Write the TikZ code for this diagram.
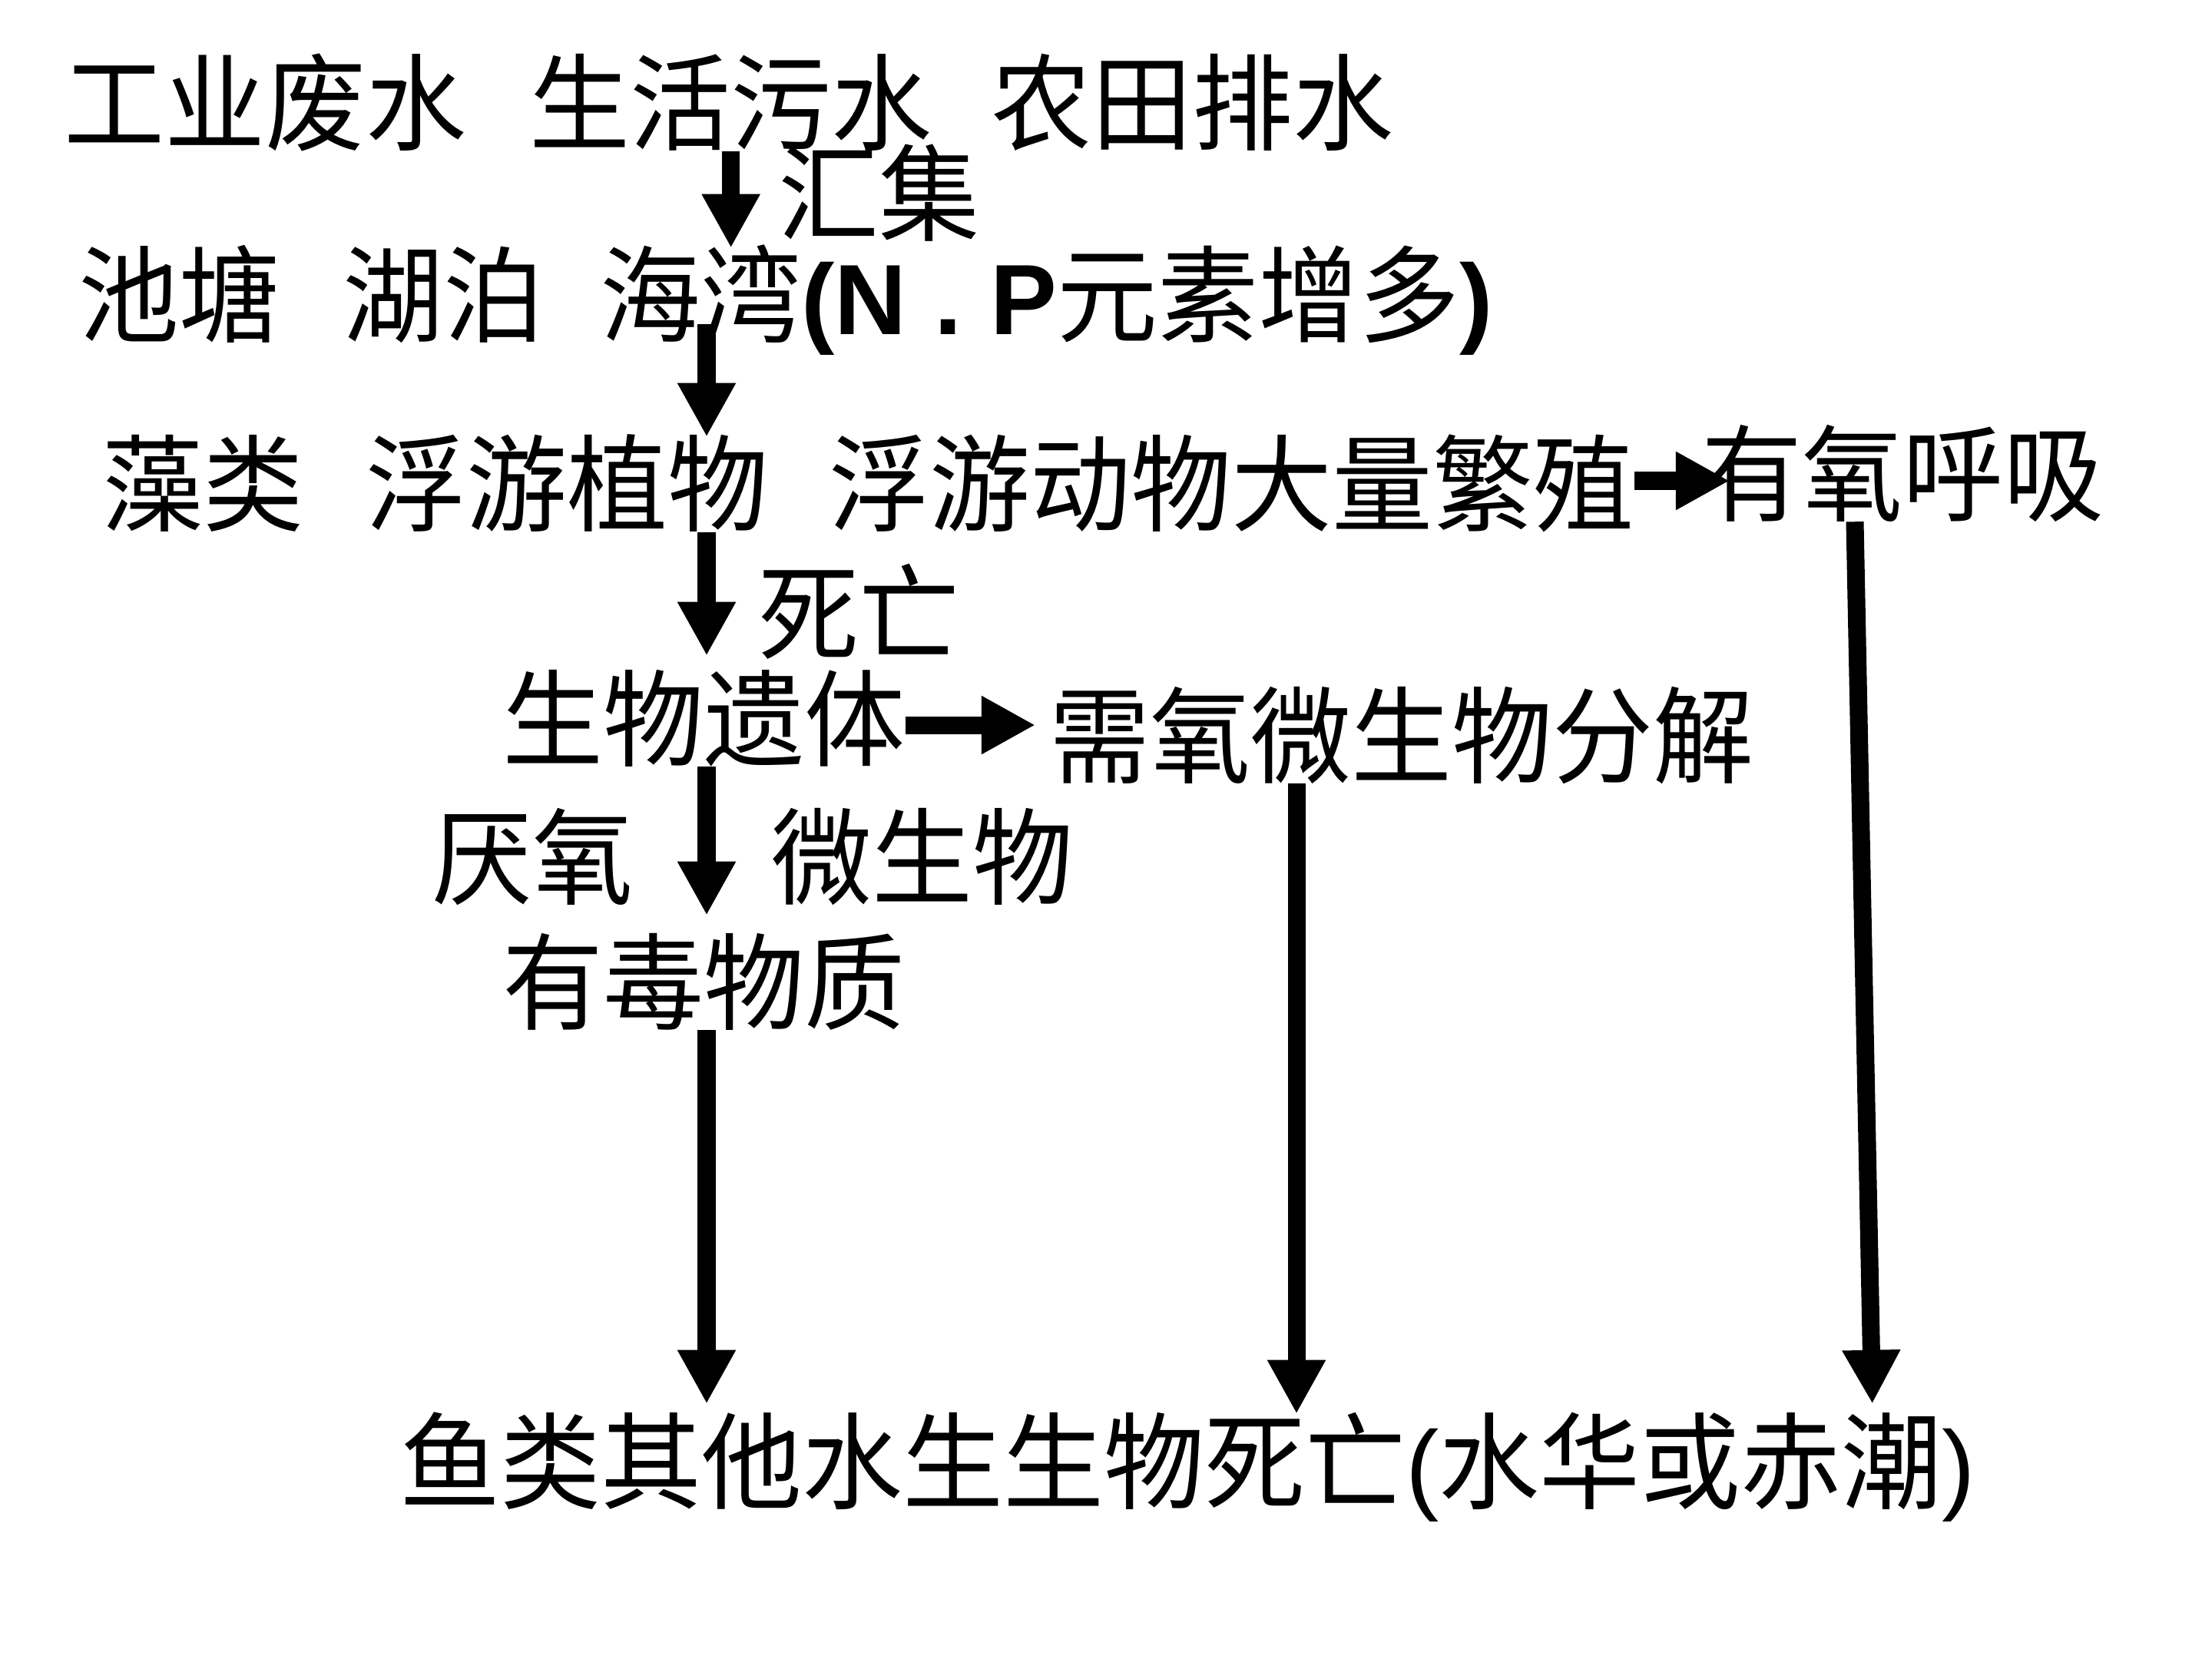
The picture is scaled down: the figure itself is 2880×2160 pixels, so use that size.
\documentclass[tikz,border=0pt]{standalone}
\usepackage{fontspec}
\setmainfont{Noto Sans CJK SC}[FakeStretch=0.955]
\newfontfamily\latinfont{Liberation Sans}
\newcommand{\latintxt}[1]{{\latinfont\fontsize{37}{44}\selectfont #1}}
\usetikzlibrary{arrows.meta}

\begin{document}
\begin{tikzpicture}[x=0.01cm, y=-0.01cm]

	% 文字与箭头的样式
	\tikzset{
		textLine/.style={anchor=west, inner sep=0pt, text height=32pt, text depth=3pt,
			font=\fontsize{39}{47}\selectfont},
		flowArrow/.style={line width=0.23cm, -{Triangle[length=0.7cm, width=0.71cm]}}
	}

	\useasboundingbox (0,0) rectangle (2880,2160);

	% 第一行: 污水来源
	\node[textLine] (src1) at (83,135) {工业废水};
	\node[textLine] (src2) at (689,135) {生活污水};
	\node[textLine] (src3) at (1290,135) {农田排水};
	\node[textLine] (gather) at (1013,253) {汇集};

	% 第二行: 水体
	\node[textLine] (pond) at (102,385) {池塘};
	\node[textLine] (lake) at (446,385) {湖泊};
	\node[textLine] (bay) at (781,385) {海湾\latintxt{\bfseries (N . P}元素增多\latintxt{\bfseries )}};

	% 第三行: 藻类繁殖
	\node[textLine] (algae) at (133,631) {藻类};
	\node[textLine] (phyto) at (476,631) {浮游植物};
	\node[textLine] (zoo) at (1079,631) {浮游动物大量繁殖};
	\node[textLine] (aer) at (2215,617) {有氧呼吸};

	% 死亡与分解
	\node[textLine] (death) at (987,798) {死亡};
	\node[textLine] (remains) at (654,936) {生物遗体};
	\node[textLine] (decomp) at (1366,958) {需氧微生物分解};
	\node[textLine] (anaer) at (562,1116) {厌氧};
	\node[textLine] (microbe) at (1004,1116) {微生物};
	\node[textLine] (toxin) at (654,1279) {有毒物质};

	% 最后结果
	\node[textLine] (final) at (520,1903) {鱼类其他水生生物死亡\latintxt{(}水华或赤潮\latintxt{)}};

	% 竖向箭头所在的列
	\coordinate (spine) at (920,0);
	\coordinate (sideCol) at (1688,0);
	\coordinate (aerTop) at (2415,0);
	\coordinate (aerBot) at (2438,0);

	% 主干箭头
	\draw[flowArrow] (src2.south) -- (src2.south |- bay.north);
	\draw[flowArrow] ([yshift=0.25cm]bay.south -| spine) -- (phyto.north -| spine);
	\draw[flowArrow, shorten >=0.2cm] (phyto.south -| spine) -- (remains.north -| spine);
	\draw[flowArrow, shorten >=0.25cm] (remains.south -| spine) -- (toxin.north -| spine);
	\draw[flowArrow, shorten >=0.13cm] (toxin.south -| spine) -- (final.north -| spine);

	% 横向箭头
	\draw[flowArrow, shorten >=-0.37cm] ([yshift=0.05cm]zoo.east) -- ([yshift=0.05cm]zoo.east -| aer.west);
	\draw[flowArrow, shorten >=0.18cm] ([yshift=-0.08cm]remains.east) -- ([yshift=-0.08cm]remains.east -| decomp.west);

	% 右侧两条长箭头
	\draw[flowArrow] (decomp.south -| sideCol) -- (final.north -| sideCol);
	\draw[flowArrow, shorten >=0.13cm] (aer.south -| aerTop) -- (final.north -| aerBot);

\end{tikzpicture}
\end{document}
